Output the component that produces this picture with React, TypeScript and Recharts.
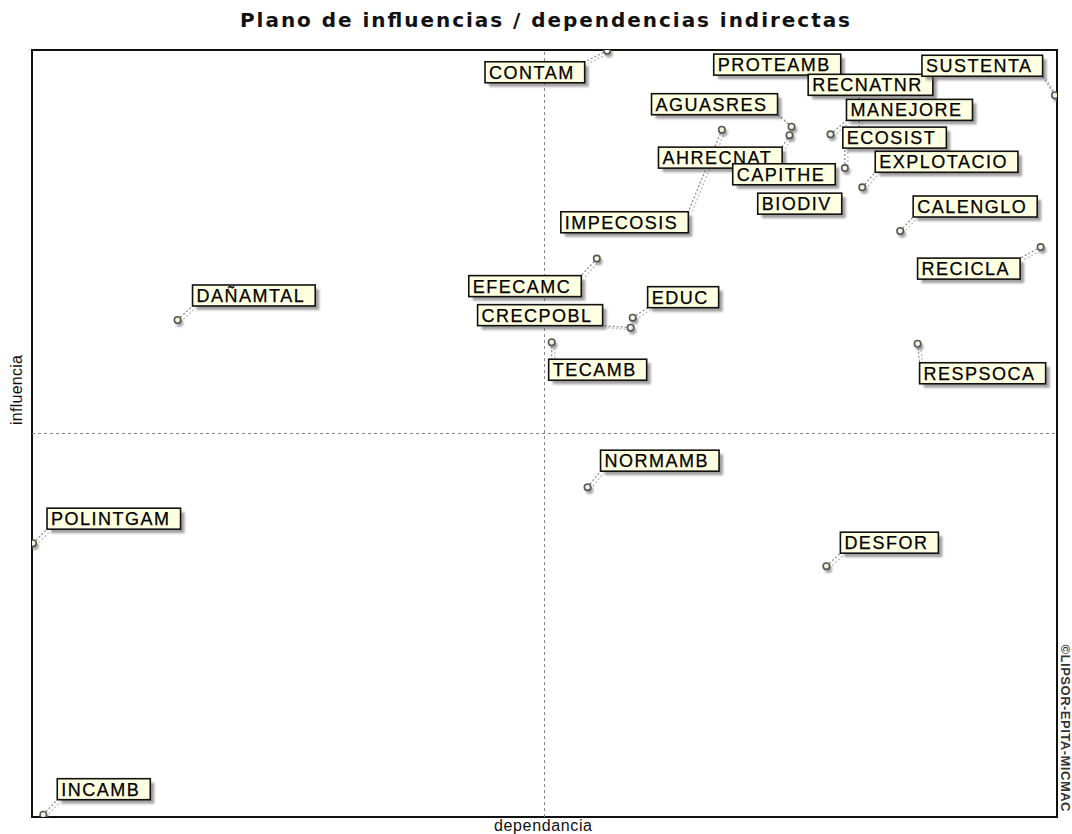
import React from 'react';
import { ScatterChart, Scatter, XAxis, YAxis, ReferenceLine, ReferenceArea } from 'recharts';

const variables = [
  'CONTAM', 'PROTEAMB', 'RECNATNR', 'SUSTENTA', 'AGUASRES', 'AHRECNAT', 'IMPECOSIS', 'MANEJORE',
  'ECOSIST', 'CAPITHE', 'BIODIV', 'EXPLOTACIO', 'CALENGLO', 'RECICLA', 'EFECAMC', 'DAÑAMTAL',
  'EDUC', 'CRECPOBL', 'TECAMB', 'RESPSOCA', 'NORMAMB', 'POLINTGAM', 'DESFOR', 'INCAMB',
];
const dependencia = [
  56.1, 74.9, 80.7, 99.8, 74.1, 73.9, 67.3, 77.9,
  79.3, 74.9, 74.9, 81.0, 84.7, 98.4, 55.1, 14.2,
  58.6, 58.4, 50.7, 86.4, 54.2, 0.1, 77.5, 1.1,
];
const influencia = [
  99.9, 97.9, 89.4, 94.1, 90.0, 88.9, 89.6, 89.0,
  84.6, 83.6, 79.9, 82.1, 76.4, 74.3, 72.8, 64.8,
  65.1, 63.8, 61.9, 61.7, 43.0, 35.7, 32.7, 0.3,
];

// where each label box sits, relative to its point (px)
const labelOffsets: Record<string, [number, number]> = {
  CONTAM: [-122, 11], PROTEAMB: [-86, -12], RECNATNR: [-51, -57], SUSTENTA: [-133, -40],
  AGUASRES: [-140, -33], AHRECNAT: [-131, 12], IMPECOSIS: [-161, 82], MANEJORE: [16, -35],
  ECOSIST: [-2, -41], CAPITHE: [-67, -12], BIODIV: [-42, -11], EXPLOTACIO: [13, -36],
  CALENGLO: [13, -35], RECICLA: [-123, 11], EFECAMC: [-128, 17], 'DAÑAMTAL': [15, -35],
  EDUC: [15, -31], CRECPOBL: [-153, -23], TECAMB: [-3, 17], RESPSOCA: [2, 19],
  NORMAMB: [13, -37], POLINTGAM: [14, -35], DESFOR: [14, -34], INCAMB: [14, -36],
};

const data = variables.map((name, i) => ({ name, x: dependencia[i], y: influencia[i] }));

const FONT = "'Liberation Sans', Arial, sans-serif";
const LETTER = 1.5;
const BOX_H = 21;

let ctx: CanvasRenderingContext2D | null = null;
function boxWidth(s: string) {
  if (!ctx) ctx = document.createElement('canvas').getContext('2d');
  let w = s.length * 11;
  if (ctx) {
    ctx.font = '18px ' + FONT;
    w = ctx.measureText(s).width;
  }
  return w + LETTER * s.length + 14;
}

function box(props: any) {
  const { cx, cy, payload } = props;
  const [dx, dy] = labelOffsets[payload.name] || [10, -30];
  return { bx: cx + dx, by: cy + dy, w: boxWidth(payload.name) };
}

function PointMark(props: any) {
  const { cx, cy } = props;
  if (cx == null || cy == null) return null;
  const { bx, by, w } = box(props);
  const lx = Math.min(Math.max(cx, bx), bx + w);
  const ly = Math.min(Math.max(cy, by), by + BOX_H);
  return (
    <g>
      <line x1={cx + 3} y1={cy + 2} x2={lx + 3} y2={ly + 2} stroke="#bdbdbd" strokeWidth={1.3} strokeDasharray="2 2" />
      <line x1={cx} y1={cy} x2={lx} y2={ly} stroke="#8f8f8f" strokeWidth={1.3} strokeDasharray="2 2" />
      <circle cx={cx + 2} cy={cy + 3} r={3.8} fill="#666" opacity={0.6} filter="url(#soft)" />
      <circle cx={cx} cy={cy} r={3.2} fill="#f4f4dc" stroke="#555" strokeWidth={1.6} />
    </g>
  );
}

function LabelBox(props: any) {
  const { cx, cy, payload } = props;
  if (cx == null || cy == null) return null;
  const { bx, by, w } = box(props);
  return (
    <g>
      <rect x={bx + 4} y={by + 4} width={w} height={BOX_H} fill="#555" opacity={0.55} filter="url(#soft)" />
      <rect x={bx} y={by} width={w} height={BOX_H} fill="#ffffe1" stroke="#111" strokeWidth={1.6} />
      <text x={bx + 4} y={by + BOX_H - 4} fontSize={18} fontFamily={FONT}
        fill="#000" stroke="#000" strokeWidth={0.25} style={{ letterSpacing: LETTER }}>
        {payload.name}
      </text>
    </g>
  );
}

export default function App() {
  return (
    <div style={{ position: 'relative', width: 1072, height: 834, background: '#fff' }}>
      <style>{'body{margin:0}'}</style>
      <svg width={0} height={0} style={{ position: 'absolute' }}>
        <defs>
          <filter id="soft" x="-20%" y="-20%" width="140%" height="140%">
            <feGaussianBlur stdDeviation="1.2" />
          </filter>
        </defs>
      </svg>
      <ScatterChart width={1072} height={834} margin={{ top: 50, right: 15, bottom: 17, left: 32 }}>
        <XAxis type="number" dataKey="x" domain={[0, 100]} hide allowDataOverflow />
        <YAxis type="number" dataKey="y" domain={[0, 100]} hide allowDataOverflow />
        <ReferenceArea x1={0} x2={100} y1={0} y2={100} fill="#fff" fillOpacity={0} stroke="#111" strokeWidth={2} />
        <ReferenceLine x={50} stroke="#888" strokeDasharray="3 3" />
        <ReferenceLine y={50} stroke="#888" strokeDasharray="3 3" />
        <Scatter data={data} shape={PointMark} isAnimationActive={false} />
        <Scatter data={data} shape={LabelBox} isAnimationActive={false} />
      </ScatterChart>
      <svg width={1072} height={834} style={{ position: 'absolute', left: 0, top: 0, pointerEvents: 'none' }}>
        <text x={545} y={27} textAnchor="middle" fontSize={20} fontWeight="bold"
          fontFamily="'DejaVu Sans', Verdana, sans-serif" fill="#111" textLength={610} lengthAdjust="spacing">
          Plano de influencias / dependencias indirectas
        </text>
        <text x={543} y={831} textAnchor="middle" fontSize={16} fontFamily={FONT}
          fill="#111" textLength={98} lengthAdjust="spacing">
          dependancia
        </text>
        <text transform="translate(22,390) rotate(-90)" textAnchor="middle" fontSize={16}
          fontFamily={FONT} fill="#111" textLength={70} lengthAdjust="spacing">
          influencia
        </text>
        <text transform="translate(1061,728) rotate(90)" textAnchor="middle" fontSize={13} fontWeight="bold"
          fontFamily={FONT} fill="#333" textLength={167} lengthAdjust="spacing">
          ©LIPSOR-EPITA-MICMAC
        </text>
      </svg>
    </div>
  );
}
